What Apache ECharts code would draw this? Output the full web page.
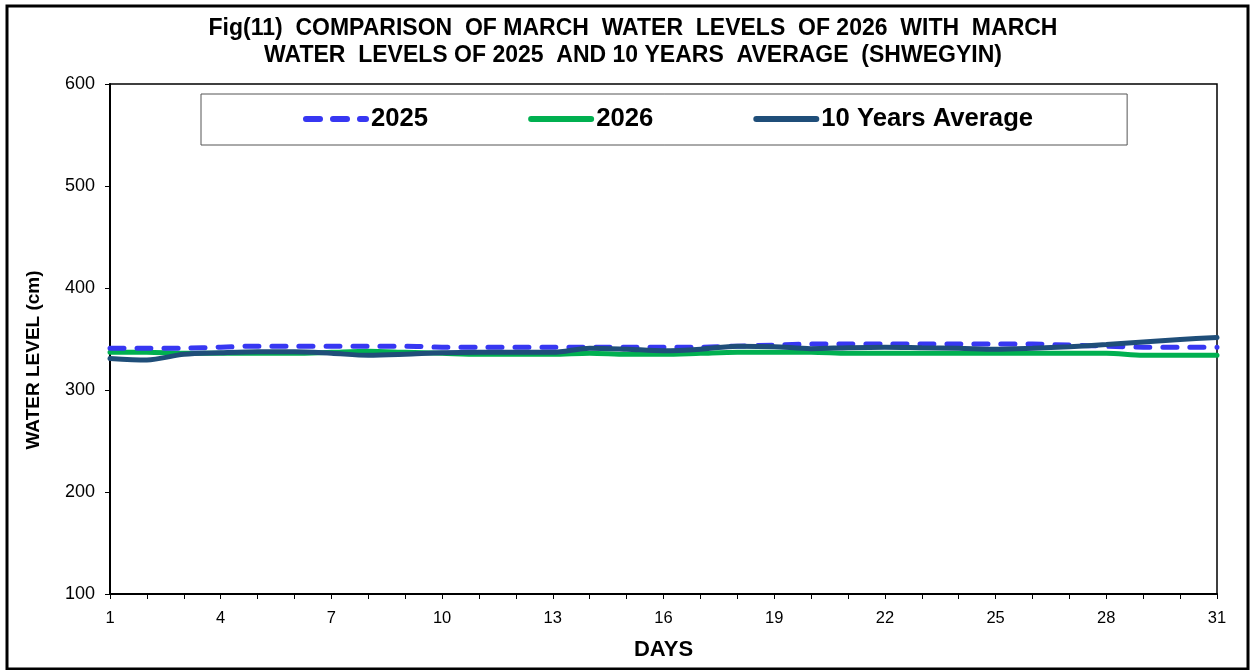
<!DOCTYPE html>
<html><head><meta charset="utf-8">
<script src="https://cdn.jsdelivr.net/npm/echarts@6/dist/echarts.min.js"></script>
<style>html,body{margin:0;padding:0;background:#fff}#c{width:1251px;height:670px}</style>
</head><body><div id="c"></div>
<script>
var days = [];
for (var d = 1; d <= 31; d++) days.push(String(d));
var level2025 = [341,341,341,342,343,343,343,343,343,342,342,342,342,342,342,342,342,343,344,345,345,345,345,345,345,345,344,343,342,342,342];
var level2026 = [337,337,336,336,336,336,337,338,337,336,335,335,335,336,335,335,336,337,337,337,336,336,336,336,336,336,336,336,334,334,334];
var levelAvg = [331,329.5,335,336.5,337.5,337.5,336,334,335,336.5,337,337,337,341,340,338.5,340,343,342.5,340.5,341.5,342,341.5,341,340,341,342.5,344.5,347,349.5,351.5];
var titleLines = ['Fig(11)  COMPARISON  OF MARCH  WATER  LEVELS  OF 2026  WITH  MARCH', 'WATER  LEVELS OF 2025  AND 10 YEARS  AVERAGE  (SHWEGYIN)'];
var FF = '"Liberation Sans", Arial, sans-serif';
var chart = echarts.init(document.getElementById('c'));
chart.setOption({
  backgroundColor: '#fff',
  animation: false,
  title: {
    text: titleLines.join('\n'),
    left: 633, top: 15, textAlign: 'center', padding: 0,
    textStyle: {fontFamily: FF, fontWeight: 'bold', fontSize: 23, lineHeight: 27, color: '#000'}
  },
  graphic: [{
    type: 'rect', left: 4.5, top: 3.5, shape: {x: 0, y: 0, width: 1241, height: 663},
    style: {fill: null, stroke: '#000', lineWidth: 3}, z: 100, silent: true
  }],
  legend: {
    left: 201, top: 94,
    padding: [12, 94, 13, 102],
    itemGap: 100, itemWidth: 60, itemHeight: 26,
    backgroundColor: '#fff', borderColor: '#555', borderWidth: 1,
    itemStyle: {opacity: 0},
    lineStyle: {width: 6, cap: 'round'},
    textStyle: {fontFamily: FF, fontWeight: 'bold', fontSize: 25.7, color: '#000'},
    data: ['2025', '2026', '10 Years Average']
  },
  grid: {left: 110, right: 34, top: 84, bottom: 76, show: true, borderColor: '#000', borderWidth: 1.5, backgroundColor: 'transparent'},
  xAxis: {
    type: 'category', data: days, boundaryGap: false,
    name: 'DAYS', nameLocation: 'middle', nameGap: 45,
    nameTextStyle: {fontFamily: FF, fontWeight: 'bold', fontSize: 22, color: '#000'},
    axisLine: {lineStyle: {color: '#000', width: 2}},
    axisTick: {show: true, interval: 0, length: 5, lineStyle: {color: '#000', width: 1}},
    axisLabel: {interval: 2, fontFamily: FF, fontSize: 16.5, color: '#000', margin: 16},
    splitLine: {show: false}
  },
  yAxis: {
    type: 'value', min: 100, max: 600, interval: 100,
    name: 'WATER LEVEL (cm)', nameLocation: 'middle', nameGap: 67, nameRotate: 90,
    nameTextStyle: {fontFamily: FF, fontWeight: 'bold', fontSize: 19, color: '#000', padding: [0, 42, 0, 0]},
    axisLine: {show: true, lineStyle: {color: '#000', width: 2}},
    axisTick: {show: true, length: 5, lineStyle: {color: '#000', width: 1}},
    axisLabel: {fontFamily: FF, fontSize: 18, color: '#000', margin: 15},
    splitLine: {show: false}
  },
  series: [
    {name: '2025', type: 'line', data: level2025, smooth: 0.3, symbol: 'none', z: 3,
     lineStyle: {color: '#3737F2', width: 5, type: [14, 13], cap: 'round'}, itemStyle: {color: '#3737F2'}},
    {name: '2026', type: 'line', data: level2026, smooth: 0.3, symbol: 'none', z: 2,
     lineStyle: {color: '#00B050', width: 5, cap: 'round'}, itemStyle: {color: '#00B050'}},
    {name: '10 Years Average', type: 'line', data: levelAvg, smooth: 0.3, symbol: 'none', z: 4,
     lineStyle: {color: '#1F4E79', width: 5, cap: 'round'}, itemStyle: {color: '#1F4E79'}}
  ]
});
</script></body></html>
